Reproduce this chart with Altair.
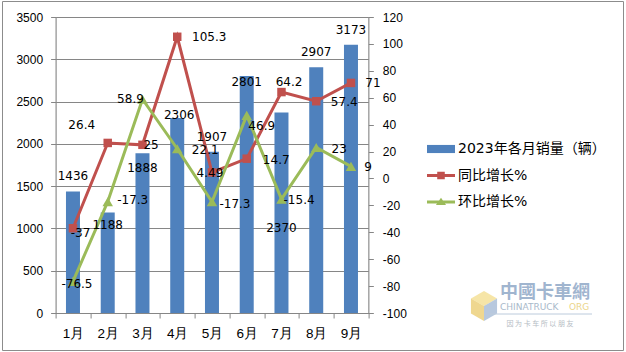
import altair as alt
import pandas as pd

# ---------------- data ----------------
months = ["1月", "2月", "3月", "4月", "5月", "6月", "7月", "8月", "9月"]
sales = [1436, 1188, 1888, 2306, 1907, 2801, 2370, 2907, 3173]
yoy = [-37, 26.4, 25, 105.3, 4.49, 14.7, 64.2, 57.4, 71]
mom = [-76.5, -17.3, 58.9, 22.1, -17.3, 46.9, -15.4, 23, 9]
series_names = ["2023年各月销量（辆）", "同比增长%", "环比增长%"]
series_colors = ["#4F81BD", "#C0504D", "#9BBB59"]
left_ticks = [0, 500, 1000, 1500, 2000, 2500, 3000, 3500]
right_ticks = [-100, -80, -60, -40, -20, 0, 20, 40, 60, 80, 100, 120]

# ---------------- label placement (pixel offsets, style only) ----------------
bar_label_off = {"1月": (0, -15.6), "2月": (0, 12.5), "3月": (0, 14.7), "4月": (2, -3),
                 "5月": (0, -14.7), "6月": (0, 6), "7月": (0, 115), "8月": (0, -15),
                 "9月": (0, -14.6)}
yoy_label_off = {"1月": (7.5, 5), "2月": (-26, -18), "3月": (8.6, 0), "4月": (32, 0),
                 "5月": (-2, 1), "6月": (29.5, 1), "7月": (7.6, -10), "8月": (28, 1),
                 "9月": (22, 0)}
mom_label_off = {"1月": (4, 3), "2月": (25, -2), "3月": (-12, 0), "4月": (28, 1),
                 "5月": (23, 2), "6月": (15, 11), "7月": (17.6, 1), "8月": (23, 1),
                 "9月": (17, 1)}

FONT = "DejaVu Sans, Noto Sans CJK SC"
GRAY = "#868686"
W, H = 312.75, 296
PL, PT = 55.6, 17

bars_df = pd.DataFrame({"month": months, "sales": sales,
                        "label": [f"{v:g}" for v in sales]})
yoy_df = pd.DataFrame({"month": months, "value": yoy,
                       "label": [f"{v:g}" for v in yoy]})
mom_df = pd.DataFrame({"month": months, "value": mom,
                       "label": [f"{v:g}" for v in mom]})
legend_df = pd.DataFrame({"series": series_names})

# ---------------- encodings ----------------
x_enc = alt.X("month:N", sort=months,
              scale=alt.Scale(domain=months, paddingInner=0, paddingOuter=0),
              axis=alt.Axis(title=None, labelAngle=0, tickBand="extent", grid=False,
                            tickSize=5, labelPadding=8, labelFontSize=13.5,
                            domainColor=GRAY, tickColor=GRAY))
y_left = alt.Y("sales:Q", scale=alt.Scale(domain=[0, 3500], nice=False),
               axis=alt.Axis(title=None, values=left_ticks, grid=True, gridColor=GRAY,
                             tickSize=5, labelPadding=8, labelFontSize=12,
                             labelExpr="toString(datum.value)",
                             domainColor=GRAY, tickColor=GRAY))
y_left_hidden = alt.Y("sales:Q", scale=alt.Scale(domain=[0, 3500], nice=False), axis=None)
y_right = alt.Y("value:Q", scale=alt.Scale(domain=[-100, 120], nice=False, zero=False),
                axis=alt.Axis(title=None, orient="right", values=right_ticks, grid=False,
                              tickSize=5, labelPadding=9, labelFontSize=12,
                              labelExpr="toString(datum.value)",
                              domainColor=GRAY, tickColor=GRAY))

cscale = alt.Scale(domain=series_names, range=series_colors)
shape_scale = alt.Scale(domain=series_names, range=[
    "M-1,-0.29H1V0.29H-1Z",
    "M-1,-0.11H1V0.11H-1Z M-0.27,-0.27H0.27V0.27H-0.27Z",
    "M-1,-0.11H1V0.11H-1Z M-0.36,0.22L0,-0.3L0.36,0.22Z",
])
leg = alt.Legend(title=None, orient="none", legendX=371.4, legendY=118,
                 symbolSize=784, labelFontSize=14, labelFont=FONT, labelColor="#000",
                 labelOffset=3, rowPadding=5.5, padding=0, symbolStrokeWidth=0,
                 symbolOpacity=1)

# ---------------- group 1: bars, frame, legend, watermark ----------------
bars = alt.Chart(bars_df).mark_bar(size=14, color=series_colors[0]).encode(
    x=x_enc, y=y_left)

legend_layer = alt.Chart(legend_df).mark_point(filled=True, opacity=0).encode(
    color=alt.Color("series:N", scale=cscale, legend=leg),
    shape=alt.Shape("series:N", scale=shape_scale, legend=leg))

one = pd.DataFrame({"k": [0]})
frame = alt.Chart(one).mark_rect(fillOpacity=0, stroke="#8c8c8c", strokeWidth=1).encode(
    x=alt.value(2.5 - PL), x2=alt.value(623.5 - PL),
    y=alt.value(1.5 - PT), y2=alt.value(350.5 - PT))

cube_top = alt.Chart(one).mark_point(filled=True, size=900, color="#f3dc8a", opacity=0.75,
                                     shape="M0,-1L0.87,-0.5L0,0L-0.87,-0.5Z").encode(
    x=alt.value(484 - PL), y=alt.value(306 - PT))
cube_left = alt.Chart(one).mark_point(filled=True, size=900, color="#e9c96a", opacity=0.75,
                                      shape="M-0.87,-0.5L0,0L0,1L-0.87,0.5Z").encode(
    x=alt.value(484 - PL), y=alt.value(306 - PT))
cube_right = alt.Chart(one).mark_point(filled=True, size=900, color="#9fb6d3", opacity=0.75,
                                       shape="M0.87,-0.5L0,0L0,1L0.87,0.5Z").encode(
    x=alt.value(484 - PL), y=alt.value(306 - PT))

wm1 = alt.Chart(one).mark_text(font="Noto Sans CJK TC", fontSize=18, color="#89a3c4",
                               opacity=0.8, fontWeight="bold").encode(
    x=alt.value(545 - PL), y=alt.value(293 - PT), text=alt.value("中國卡車網"))
wm2 = alt.Chart(one).mark_text(font="DejaVu Sans", fontSize=9, color="#a9b9ca",
                               align="left").encode(
    x=alt.value(500 - PL), y=alt.value(307 - PT), text=alt.value("CHINATRUCK"))
wm3 = alt.Chart(one).mark_text(font="DejaVu Sans", fontSize=9, color="#ecd58a",
                               align="left").encode(
    x=alt.value(569 - PL), y=alt.value(307 - PT), text=alt.value("ORG"))
wm4 = alt.Chart(one).mark_text(font="Noto Sans CJK SC", fontSize=7, color="#b5bcc4").encode(
    x=alt.value(540 - PL), y=alt.value(324 - PT), text=alt.value("因  为  卡  车  所  以  朋  友"))
wm_line = alt.Chart(one).mark_rule(color="#bccbdc", strokeWidth=1).encode(
    x=alt.value(490 - PL), x2=alt.value(592 - PL), y=alt.value(314 - PT))

group1 = alt.layer(frame, bars, legend_layer, cube_top, cube_left, cube_right,
                   wm1, wm2, wm3, wm4, wm_line)

# ---------------- group 2: lines + line labels ----------------
def line_layers(d, color, shape, size):
    line = alt.Chart(d).mark_line(strokeWidth=3, color=color).encode(x=x_enc, y=y_right)
    pts = alt.Chart(d).mark_point(filled=True, shape=shape, size=size, opacity=1,
                                  color=color).encode(x=x_enc, y=y_right)
    return [line, pts]

layers2 = (line_layers(yoy_df, series_colors[1], "square", 72)
           + line_layers(mom_df, series_colors[2], "triangle-up", 110))
for d, offs in ((yoy_df, yoy_label_off), (mom_df, mom_label_off)):
    for m in months:
        dx, dy = offs[m]
        layers2.append(
            alt.Chart(d).transform_filter(alt.datum.month == m)
            .mark_text(dx=dx, dy=dy, font=FONT, fontSize=12, color="#000")
            .encode(x=x_enc, y=y_right, text="label:N"))
group2 = alt.layer(*layers2)

# ---------------- group 3: bar labels ----------------
layers3 = []
for m in months:
    dx, dy = bar_label_off[m]
    layers3.append(
        alt.Chart(bars_df).transform_filter(alt.datum.month == m)
        .mark_text(dx=dx, dy=dy, font=FONT, fontSize=12, color="#000")
        .encode(x=x_enc, y=y_left_hidden, text="label:N"))
group3 = alt.layer(*layers3)

chart = alt.layer(group1, group2, group3).resolve_scale(y="independent").properties(
    width=W, height=H,
    padding={"left": PL, "top": PT, "right": 626 - PL - W, "bottom": 352 - PT - H},
    autosize=alt.AutoSizeParams(type="none"),
).configure_view(stroke=None).configure_axis(
    labelFont=FONT, labelColor="#000", domainColor=GRAY, tickColor=GRAY, gridColor=GRAY
).configure(background="white")

chart.save("out.html", embed_options={"renderer": "svg", "actions": False})
